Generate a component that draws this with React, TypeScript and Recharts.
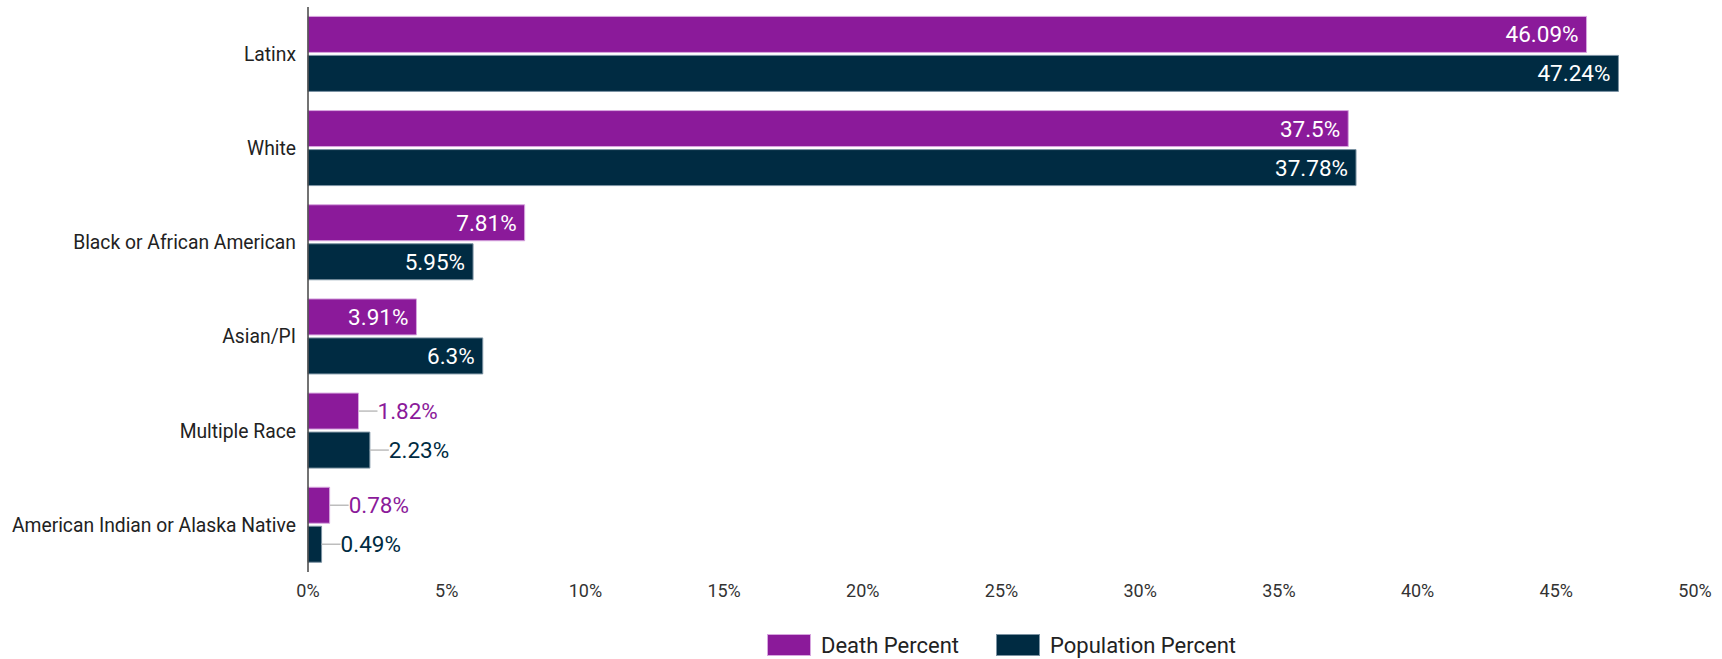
import { Bar, BarChart, LabelList, Legend, XAxis, YAxis } from "recharts";

const categories = [
  "Latinx",
  "White",
  "Black or African American",
  "Asian/PI",
  "Multiple Race",
  "American Indian or Alaska Native",
];
const deathPercent = [46.09, 37.5, 7.81, 3.91, 1.82, 0.78];
const populationPercent = [47.24, 37.78, 5.95, 6.3, 2.23, 0.49];
const xTicks = [0, 5, 10, 15, 20, 25, 30, 35, 40, 45, 50];

const PURPLE = "#8b1a9a";
const NAVY = "#002b42";
const FONT = "Roboto, 'Noto Sans', sans-serif";

const data = categories.map((name, i) => ({
  name,
  death: deathPercent[i],
  population: populationPercent[i],
}));

function makeLabel(color: string) {
  return (props: any) => {
    const { x, y, width, height, value } = props;
    const cy = y + height / 2;
    const end = x + width;
    if (value >= 3) {
      return (
        <text x={end - 8} y={cy} fill="#fff" fontSize={22.5} fontFamily={FONT} textAnchor="end" dominantBaseline="central">
          {value}%
        </text>
      );
    }
    return (
      <g>
        <line x1={end} y1={cy} x2={end + 19} y2={cy} stroke="#bdbdbd" strokeWidth={1.5} />
        <text x={end + 19} y={cy} fill={color} fontSize={22.5} fontFamily={FONT} dominantBaseline="central">
          {value}%
        </text>
      </g>
    );
  };
}

function LegendContent() {
  const items = [
    { label: "Death Percent", color: PURPLE, border: "#d7a6df" },
    { label: "Population Percent", color: NAVY, border: "#7c93a3" },
  ];
  return (
    <div style={{ display: "flex", justifyContent: "center", alignItems: "center", height: 28, gap: 37, fontFamily: FONT }}>
      {items.map((it) => (
        <div key={it.label} style={{ display: "flex", alignItems: "center", gap: 10 }}>
          <span style={{ width: 42, height: 20, background: it.color, border: `1px solid ${it.border}`, display: "inline-block" }} />
          <span style={{ fontSize: 22, color: "#222" }}>{it.label}</span>
        </div>
      ))}
    </div>
  );
}

export default function App() {
  return (
    <div style={{ position: "fixed", left: 0, top: 0, background: "#fff" }}>
      <BarChart
        width={1722}
        height={659}
        data={data}
        layout="vertical"
        margin={{ top: 7, right: 27, left: 0, bottom: 0 }}
        barCategoryGap="10%"
        barGap={3}
      >
        <XAxis
          type="number"
          domain={[0, 50]}
          ticks={xTicks}
          tickFormatter={(v) => `${v}%`}
          axisLine={false}
          tickLine={false}
          tickSize={0}
          tickMargin={12}
          height={59}
          interval={0}
          tick={{ fill: "#333", fontSize: 18, fontFamily: FONT }}
        />
        <YAxis
          type="category"
          dataKey="name"
          width={308}
          axisLine={{ stroke: "#444", strokeWidth: 1.5 }}
          tickLine={false}
          tickSize={0}
          tickMargin={12}
          interval={0}
          tick={{ fill: "#222", fontSize: 19.3, fontFamily: FONT }}
        />
        <Legend verticalAlign="bottom" wrapperStyle={{ left: 308, width: 1387 }} content={<LegendContent />} />
        <Bar dataKey="death" name="Death Percent" fill={PURPLE} stroke="#d7a6df" strokeWidth={1} isAnimationActive={false}>
          <LabelList dataKey="death" content={makeLabel(PURPLE)} />
        </Bar>
        <Bar dataKey="population" name="Population Percent" fill={NAVY} stroke="#7c93a3" strokeWidth={1} isAnimationActive={false}>
          <LabelList dataKey="population" content={makeLabel(NAVY)} />
        </Bar>
      </BarChart>
    </div>
  );
}
